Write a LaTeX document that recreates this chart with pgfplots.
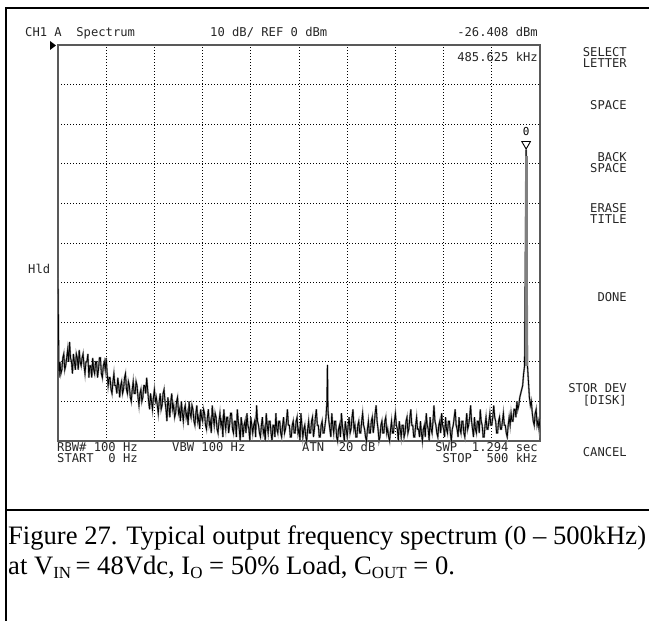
\documentclass[border=0pt]{standalone}
\usepackage{pgfplots}
\pgfplotsset{compat=1.18}
\usepackage{pgfplotstable}
\usepackage{fontspec}
\setmainfont{Liberation Serif}
\newfontfamily\crt{DejaVu Sans Mono}

\pgfplotstableread{
x y
0 -59
1 -84
2 -80
3 -83
4 -82
5 -79
6 -78
7 -82
8 -81
9 -79
10 -77
11 -80
12 -75
13 -79
14 -80
15 -83
16 -78
17 -80
18 -82
19 -78
20 -79
21 -82
22 -77
23 -80
24 -81
25 -79
26 -78
27 -81
28 -83
29 -80
30 -80
31 -78
32 -84
33 -81
34 -81
35 -84
36 -79
37 -82
38 -83
39 -80
40 -80
41 -84
42 -82
43 -79
44 -79
45 -83
46 -84
47 -81
48 -80
49 -82
50 -79
51 -83
52 -86
53 -84
54 -84
55 -87
56 -88
57 -85
58 -83
59 -86
60 -86
61 -88
62 -84
63 -86
64 -89
65 -86
66 -85
67 -88
68 -87
69 -84
70 -83
71 -87
72 -88
73 -85
74 -86
75 -89
76 -90
77 -87
78 -85
79 -88
80 -88
81 -85
82 -86
83 -89
84 -91
85 -88
86 -87
87 -90
88 -89
89 -86
90 -86
91 -88
92 -84
93 -87
94 -90
95 -92
96 -88
97 -90
98 -92
99 -89
100 -87
101 -90
102 -89
103 -91
104 -93
105 -90
106 -88
107 -92
108 -91
109 -88
110 -87
111 -90
112 -92
113 -95
114 -89
115 -91
116 -94
117 -90
118 -88
119 -92
120 -91
121 -94
122 -93
123 -90
124 -89
125 -93
126 -92
127 -95
128 -90
129 -93
130 -95
131 -92
132 -91
133 -94
134 -93
135 -96
136 -90
137 -93
138 -94
139 -91
140 -92
141 -95
142 -96
143 -93
144 -91
145 -95
146 -94
147 -97
148 -92
149 -94
150 -95
151 -92
152 -93
153 -96
154 -97
155 -94
156 -92
157 -96
158 -95
159 -98
160 -91
161 -94
162 -96
163 -93
164 -94
165 -97
166 -98
167 -95
168 -93
169 -96
170 -95
171 -99
172 -92
173 -95
174 -97
175 -94
176 -94
177 -98
178 -96
179 -93
180 -93
181 -97
182 -98
183 -95
184 -95
185 -99
186 -92
187 -95
188 -97
189 -100
190 -94
191 -96
192 -99
193 -96
194 -95
195 -98
196 -93
197 -96
198 -97
199 -100
200 -94
202 -98
203 -96
204 -95
205 -99
206 -91
207 -95
208 -96
209 -98
210 -99
211 -96
212 -94
213 -98
214 -97
215 -100
216 -93
217 -96
218 -98
219 -95
220 -95
221 -98
222 -100
223 -96
224 -96
225 -99
226 -93
227 -97
228 -98
229 -95
230 -95
231 -98
232 -99
233 -96
234 -94
235 -98
236 -97
237 -95
238 -92
239 -96
240 -96
241 -99
242 -99
243 -96
244 -95
245 -98
246 -98
247 -95
248 -94
249 -98
250 -97
251 -100
252 -93
253 -96
254 -99
255 -97
256 -96
257 -99
258 -100
259 -97
260 -95
261 -98
262 -98
263 -95
264 -94
265 -99
266 -97
267 -94
268 -92
269 -96
270 -96
271 -99
272 -99
273 -96
274 -95
275 -98
276 -98
277 -96
278 -94
279 -90
279.5 -80.8
280 -92
281 -95
282 -97
283 -99
284 -93
285 -96
286 -98
287 -95
288 -95
289 -99
290 -100
291 -97
292 -96
293 -99
294 -93
295 -96
296 -98
297 -100
298 -95
299 -97
300 -99
301 -96
302 -94
303 -98
304 -97
305 -94
306 -92
307 -97
308 -96
309 -99
310 -99
311 -96
312 -95
313 -98
314 -98
315 -95
316 -93
317 -96
318 -97
319 -99
320 -100
321 -97
322 -95
323 -98
324 -98
325 -95
326 -94
327 -98
328 -96
329 -93
330 -91
331 -95
332 -97
333 -100
334 -99
335 -96
336 -95
337 -98
338 -98
339 -95
340 -94
341 -98
342 -97
343 -99
344 -100
345 -97
346 -95
347 -98
348 -98
349 -95
350 -93
351 -96
352 -97
353 -100
354 -95
355 -97
356 -99
357 -96
358 -96
359 -99
360 -98
361 -95
362 -94
363 -98
364 -97
365 -94
366 -92
367 -96
368 -96
369 -99
370 -99
371 -96
372 -94
373 -97
374 -97
375 -99
376 -95
377 -98
378 -100
379 -97
380 -96
381 -99
382 -93
383 -96
384 -97
385 -100
386 -94
387 -97
388 -98
389 -95
390 -91
391 -95
392 -96
393 -98
394 -99
395 -96
396 -95
397 -98
398 -93
399 -96
400 -97
401 -99
402 -94
403 -97
404 -98
405 -95
406 -95
407 -98
408 -100
409 -97
410 -96
411 -94
412 -92
413 -96
414 -97
415 -99
416 -94
417 -97
418 -98
419 -95
420 -95
421 -98
422 -99
423 -96
424 -93
425 -97
426 -96
427 -94
428 -91
429 -95
430 -97
431 -99
432 -94
433 -97
434 -98
435 -95
436 -95
437 -98
438 -92
439 -95
440 -96
441 -99
442 -99
443 -96
444 -94
445 -97
446 -97
447 -95
448 -93
449 -96
450 -96
451 -94
452 -91
453 -94
454 -95
455 -98
456 -98
457 -95
458 -94
459 -97
460 -97
461 -95
462 -93
463 -96
464 -96
465 -98
466 -99
467 -96
468 -94
469 -96
470 -93
471 -95
472 -95
473 -92
474 -92
475 -94
476 -90
477 -92
478 -91
479 -89
480 -88
481 -87
482 -86
483 -83
484 -81
485.6 -26.4
487 -81
488 -85
489 -89
490 -91
491 -90
492 -93
493 -95
494 -96
495 -93
496 -92
497 -96
498 -95
499 -97
500 -94
}\trace

\begin{document}
\begin{tikzpicture}
\begin{scope}[x=1bp,y=1bp]
\path[use as bounding box] (0,0) rectangle (649,621);
\draw[line width=2bp] (6,0) -- (6,613) -- (649,613);
\draw[line width=2bp] (6,111) -- (649,111);
% reference level marker
\fill (50,580) -- (56,575.5) -- (50,571) -- cycle;
\end{scope}

\begin{axis}[
  at={(58bp,180bp)}, anchor=south west,
  width=482bp, height=396bp, scale only axis,
  xmin=0, xmax=500, ymin=-100, ymax=0,
  xtick={0,50,...,500}, ytick={-100,-90,...,0},
  xticklabels={}, yticklabels={},
  major tick length=0pt,
  grid=major,
  major grid style={black, line width=0.9bp, dash pattern=on 0.9bp off 2.1bp},
  axis line style={black!65, line width=1.6bp},
  clip=false,
]
\addplot[black!45, line width=1.8bp] table[x=x,y=y] {\trace};
\addplot[black, line width=0.8bp] table[x=x,y=y] {\trace};
\addplot[black!50, line width=2.8bp] coordinates {(485.6,-28) (485.6,-81)};
\addplot[only marks, mark=triangle, mark size=5bp,
  mark options={yshift=5.5bp, rotate=180, black, line width=0.9bp, fill=white}]
  coordinates {(485.6,-26.4)};
\node[font=\crt\fontsize{11}{11}\selectfont, anchor=base] at (axis cs:485.6,-26.4) [yshift=14bp] {0};
\end{axis}

\begin{scope}[x=1bp,y=1bp, every node/.style={inner sep=0pt, font=\crt\fontsize{12.2}{12}\selectfont, text=black!85}]
\node[anchor=base west] at (25,584) {CH1~A~~Spectrum};
\node[anchor=base west] at (210,584) {10~dB/~REF~0~dBm};
\node[anchor=base east] at (538,584) {-26.408~dBm};
\node[anchor=base east] at (538,559) {485.625~kHz};
\node[anchor=base west] at (28,347) {Hld};
\node[anchor=base west] at (57,169) {RBW\#~100~Hz};
\node[anchor=base west] at (57,158) {START~~0~Hz};
\node[anchor=base west] at (172,169) {VBW~100~Hz};
\node[anchor=base west] at (302,169) {ATN~~20~dB};
\node[anchor=base east] at (538,169) {SWP~~1.294~sec};
\node[anchor=base east] at (538,158) {STOP~~500~kHz};
% soft keys
\node[anchor=base east] at (627,564) {SELECT};
\node[anchor=base east] at (627,553) {LETTER};
\node[anchor=base east] at (627,511) {SPACE};
\node[anchor=base east] at (627,459) {BACK};
\node[anchor=base east] at (627,448) {SPACE};
\node[anchor=base east] at (627,408) {ERASE};
\node[anchor=base east] at (627,397) {TITLE};
\node[anchor=base east] at (627,319) {DONE};
\node[anchor=base east] at (627,228) {STOR~DEV};
\node[anchor=base east] at (627,216) {[DISK]};
\node[anchor=base east] at (627,164) {CANCEL};
\end{scope}

\begin{scope}[x=1bp,y=1bp]
\node[anchor=base west, inner sep=0pt, font=\fontsize{26.7}{30}\selectfont] at (8,76)
  {Figure 27. Typical output frequency spectrum (0 -- 500kHz)};
\node[anchor=base west, inner sep=0pt, font=\fontsize{26.7}{30}\selectfont] at (8,46)
  {at V\raisebox{-4bp}{\fontsize{17}{17}\selectfont IN}\,= 48Vdc, I\raisebox{-4bp}{\fontsize{17}{17}\selectfont O} = 50\% Load, C\raisebox{-4bp}{\fontsize{17}{17}\selectfont OUT} = 0.};
\end{scope}
\end{tikzpicture}
\end{document}
